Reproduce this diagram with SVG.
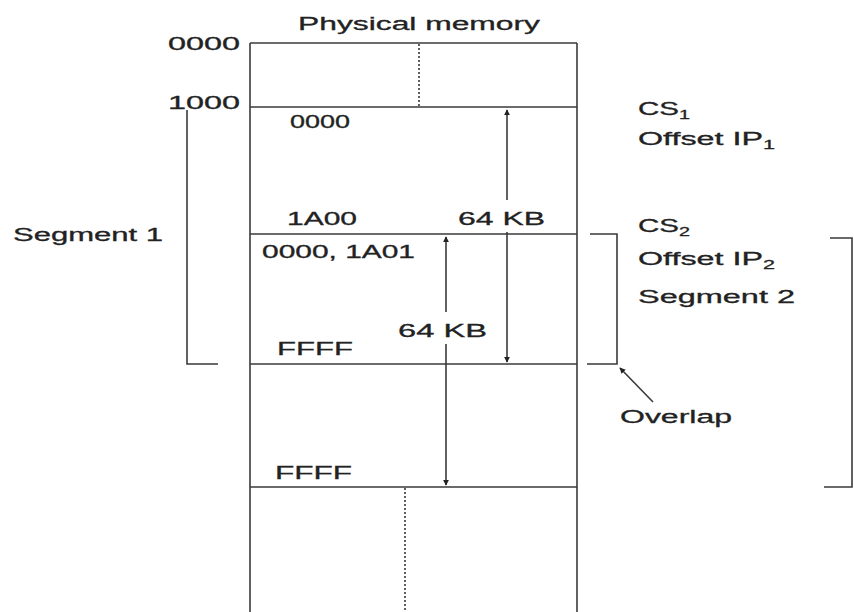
<svg xmlns="http://www.w3.org/2000/svg" width="854" height="612" viewBox="0 0 854 612">
<style>
  .ln { stroke:#3a3a3a; stroke-width:1.6; fill:none; }
  .dot { stroke:#3a3a3a; stroke-width:1.6; fill:none; stroke-dasharray:2 2; }
  .t { font-family:"Liberation Sans", Arial, sans-serif; fill:#222; font-size:18px; stroke:#222; stroke-width:0.3; }
  .sub { font-size:12px; }
</style>
<defs>
  <marker id="ah" viewBox="0 0 8 8" refX="7" refY="4" markerWidth="6" markerHeight="6" orient="auto-start-reverse" markerUnits="userSpaceOnUse">
    <path d="M0,0 L8,4 L0,8 Z" fill="#222"/>
  </marker>
</defs>
<rect width="854" height="612" fill="#fff"/>

<g id="memory">
  <line class="ln" x1="250" y1="43" x2="250" y2="612"/>
  <line class="ln" x1="577" y1="43" x2="577" y2="612"/>
  <line class="ln" x1="250" y1="43" x2="577" y2="43"/>
  <line class="ln" x1="250" y1="107" x2="577" y2="107"/>
  <line class="ln" x1="250" y1="234" x2="577" y2="234"/>
  <line class="ln" x1="250" y1="364" x2="577" y2="364"/>
  <line class="ln" x1="250" y1="487" x2="577" y2="487"/>
  <line class="dot" x1="419" y1="44" x2="419" y2="106"/>
  <line class="dot" x1="405" y1="488" x2="405" y2="612"/>
  <text class="t" x="298" y="30" font-size="16" textLength="242" lengthAdjust="spacingAndGlyphs">Physical memory</text>
  <text class="t" x="168" y="50" textLength="72" lengthAdjust="spacingAndGlyphs">0000</text>
  <text class="t" x="168" y="109" textLength="72" lengthAdjust="spacingAndGlyphs">1000</text>
</g>

<g id="segment1">
  <text class="t" x="290" y="128" font-size="17" textLength="60" lengthAdjust="spacingAndGlyphs">0000</text>
  <text class="t" x="287" y="225" font-size="17" textLength="70" lengthAdjust="spacingAndGlyphs">1A00</text>
  <text class="t" x="458" y="225" font-size="17" textLength="87" lengthAdjust="spacingAndGlyphs">64 KB</text>
  <text class="t" x="13" y="241" textLength="150" lengthAdjust="spacingAndGlyphs">Segment 1</text>
  <text class="t" x="638" y="115" font-size="16" textLength="52" lengthAdjust="spacingAndGlyphs">CS<tspan class="sub" dy="4">1</tspan></text>
  <text class="t" x="638" y="145" font-size="16" textLength="137" lengthAdjust="spacingAndGlyphs">Offset IP<tspan class="sub" dy="4">1</tspan></text>
</g>

<g id="segment2">
  <text class="t" x="262" y="258" font-size="17" textLength="153" lengthAdjust="spacingAndGlyphs">0000, 1A01</text>
  <text class="t" x="398" y="337" font-size="17" textLength="89" lengthAdjust="spacingAndGlyphs">64 KB</text>
  <text class="t" x="277" y="355" font-size="17" textLength="76" lengthAdjust="spacingAndGlyphs">FFFF</text>
  <text class="t" x="275" y="479" font-size="17" textLength="77" lengthAdjust="spacingAndGlyphs">FFFF</text>
  <text class="t" x="638" y="232" font-size="16" textLength="52" lengthAdjust="spacingAndGlyphs">CS<tspan class="sub" dy="4">2</tspan></text>
  <text class="t" x="638" y="265" font-size="16" textLength="137" lengthAdjust="spacingAndGlyphs">Offset IP<tspan class="sub" dy="4">2</tspan></text>
  <text class="t" x="638" y="303" font-size="17" textLength="157" lengthAdjust="spacingAndGlyphs">Segment 2</text>
</g>

<g id="overlap">
  <text class="t" x="620" y="423" font-size="17" textLength="112" lengthAdjust="spacingAndGlyphs">Overlap</text>
</g>

<g id="connectors">
  <!-- segment 1 bracket -->
  <polyline class="ln" points="187,110 187,364 218,364"/>
  <!-- segment 2 bracket -->
  <polyline class="ln" points="590,234 617,234 617,364 587,364"/>
  <!-- far right bracket -->
  <polyline class="ln" points="830,238 852,238 852,487 824,487"/>
  <!-- upper 64 KB arrow -->
  <line class="ln" x1="507" y1="200" x2="507" y2="110" marker-end="url(#ah)"/>
  <line class="ln" x1="507" y1="232" x2="507" y2="362" marker-end="url(#ah)"/>
  <!-- lower 64 KB arrow -->
  <line class="ln" x1="446" y1="312" x2="446" y2="237" marker-end="url(#ah)"/>
  <line class="ln" x1="446" y1="344" x2="446" y2="485" marker-end="url(#ah)"/>
  <!-- overlap pointer -->
  <line class="ln" x1="653" y1="402" x2="620" y2="368" marker-end="url(#ah)"/>
</g>
</svg>
